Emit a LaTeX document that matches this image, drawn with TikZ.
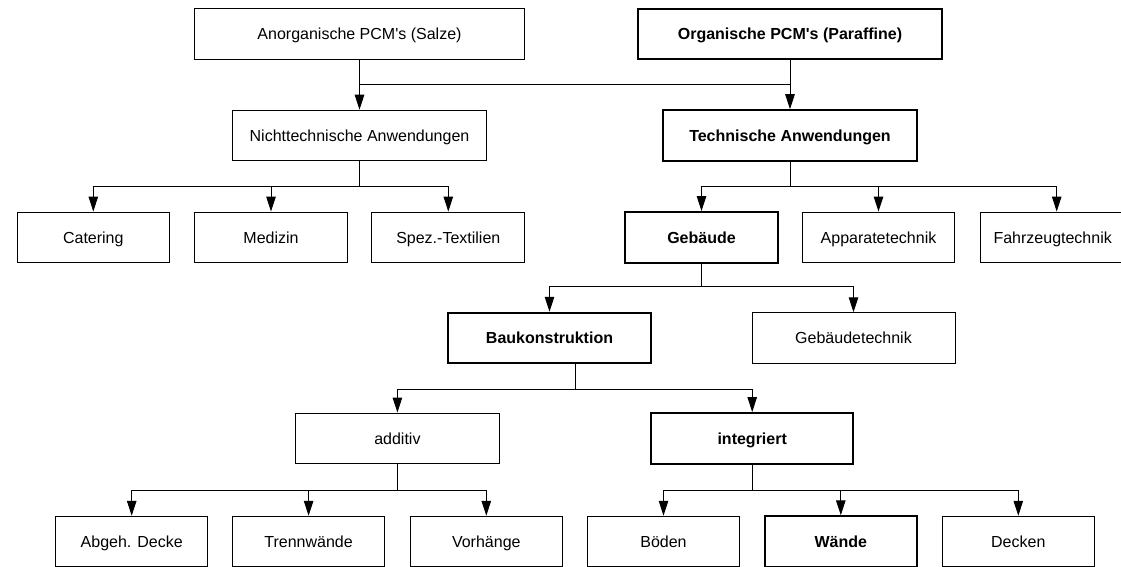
\documentclass[tikz,border=0pt]{standalone}
\usepackage{fontspec}
\setmainfont{Liberation Sans}
\usetikzlibrary{arrows.meta}
\begin{document}
\begin{tikzpicture}[x=1pt,y=-1pt,
  box/.style={draw=black,line width=1pt,fill=white,inner sep=0pt,
    minimum height=50.5pt,text height=11.5pt,text depth=0pt,
    font=\fontsize{16}{19}\selectfont},
  keybox/.style={box,line width=2pt,font=\fontsize{16}{19}\selectfont\bfseries},
  link/.style={line width=1pt},
  feed/.style={link,-{Triangle[length=15pt,width=9.5pt]}}]
\useasboundingbox (0,0) rectangle (1121,567);
\clip (0,0) rectangle (1121,567);

% level 0: materials
\node[box,minimum width=329.6pt] (anorg) at (359.5,34.2) {Anorganische PCM\textquotesingle s (Salze)};
\node[keybox,minimum width=303.4pt] (org) at (790,34.2) {Organische PCM\textquotesingle s (Paraffine)};
% level 1: fields of application
\node[box,minimum width=253.3pt] (nicht) at (359.5,135.5) {Nichttechnische Anwendungen};
\node[keybox,minimum width=253.4pt] (tech) at (790,135.5) {Technische Anwendungen};
% level 2
\node[box,minimum width=152.2pt] (cater) at (93.3,237.3) {Catering};
\node[box,minimum width=152.1pt] (medi) at (271,237.3) {Medizin};
\node[box,minimum width=153pt] (spez) at (448.3,237.3) {Spez.-Textilien};
\node[keybox,minimum width=152.7pt] (geb) at (701.5,237.3) {Gebäude};
\node[box,minimum width=151.6pt] (appa) at (878.5,237.3) {Apparatetechnik};
\node[box,minimum width=153.4pt] (fahr) at (1056.7,237.3) {Fahrzeugtechnik\hspace*{8pt}};
% level 3
\node[keybox,minimum width=202.4pt] (bau) at (549.5,338) {Baukonstruktion};
\node[box,minimum width=203pt] (gebt) at (853.5,338) {Gebäudetechnik};
% level 4
\node[box,minimum width=203.3pt] (add) at (397.4,438.3) {additiv};
\node[keybox,minimum width=202.3pt] (integ) at (752.2,438.3) {integriert};
% level 5
\node[box,minimum width=152.5pt] (abgeh) at (131.7,541.5) {Abgeh. Decke};
\node[box,minimum width=151.6pt] (trenn) at (308.6,541.5) {Trennwände};
\node[box,minimum width=152.2pt] (vorh) at (486.3,541.5) {Vorhänge};
\node[box,minimum width=152pt] (boden) at (663.5,541.5) {Böden};
\node[keybox,minimum width=151.8pt] (waende) at (840.8,541.5) {Wände};
\node[box,minimum width=152.2pt] (decken) at (1018.3,541.5) {Decken};

% junction heights of the connectors
\coordinate (j0) at (0,84.3);
\coordinate (j1) at (0,186);
\coordinate (j2) at (0,286.7);
\coordinate (j3) at (0,389);
\coordinate (j4) at (0,490.3);
\coordinate (bauout) at ([xshift=25.5pt]bau.south);

% materials feed both fields
\draw[link] (anorg.south |- j0) -- (org.south |- j0);
\draw[feed] (anorg.south) -- (anorg.south |- nicht.north);
\draw[feed] (org.south) -- (org.south |- tech.north);

% fan-outs
\foreach \c in {cater,medi,spez}
  \draw[feed] (nicht.south) -- (nicht.south |- j1) -| (\c.north);
\foreach \c in {geb,appa,fahr}
  \draw[feed] (tech.south) -- (tech.south |- j1) -| (\c.north);
\foreach \c in {bau,gebt}
  \draw[feed] (geb.south) -- (geb.south |- j2) -| (\c.north);
\foreach \c in {add,integ}
  \draw[feed] (bauout) -- (bauout |- j3) -| (\c.north);
\foreach \c in {abgeh,trenn,vorh}
  \draw[feed] (add.south) -- (add.south |- j4) -| (\c.north);
\foreach \c in {boden,waende,decken}
  \draw[feed] (integ.south) -- (integ.south |- j4) -| (\c.north);
\end{tikzpicture}
\end{document}
